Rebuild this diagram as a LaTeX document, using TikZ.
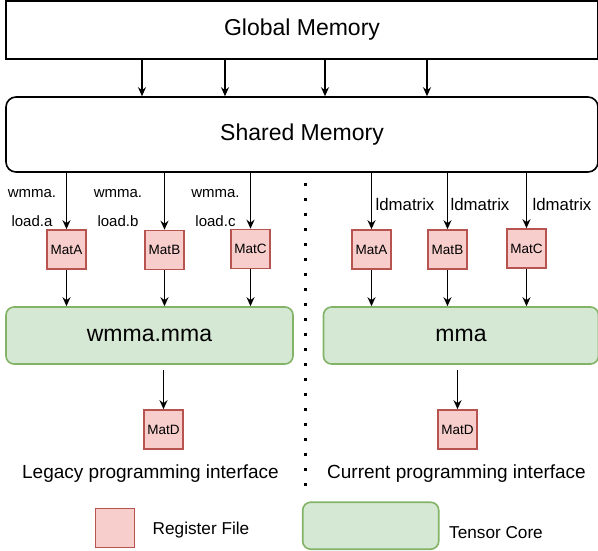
\documentclass[tikz,border=0pt]{standalone}
\usepackage{fontspec}
\setmainfont{Liberation Sans}
\usetikzlibrary{arrows.meta,
                positioning
            }

\tikzset{
    membox/.style={draw, line width=1.6pt, inner sep=0pt, font=\fontsize{23}{26}\selectfont},
    regfile/.style={draw=regline, fill=regfill, line width=1.6pt, minimum width=39pt, minimum height=39pt, inner sep=0pt, font=\fontsize{13.5}{15}\selectfont},
    tcore/.style={draw=tcline, fill=tcfill, line width=1.6pt, rounded corners=8pt, minimum height=57pt, inner sep=0pt, font=\fontsize{23}{26}\selectfont},
    flow/.style={-{Stealth[length=9pt,width=8pt]}, line width=1.6pt},
    lbl/.style={inner sep=0pt, align=center}
}
\definecolor{regfill}{HTML}{F8CECC}
\definecolor{regline}{HTML}{B85450}
\definecolor{tcfill}{HTML}{D5E8D4}
\definecolor{tcline}{HTML}{82B366}

\begin{document}
\begin{tikzpicture}[x=1pt, y=-1pt]
            \useasboundingbox (0,0) rectangle (598,550);
            % memories
            \node[membox, minimum width=592pt, minimum height=58pt] (gmem) at (302, 30) {Global Memory};
            \node[membox, rounded corners=10pt, minimum width=592pt, minimum height=75pt] (smem) at (302, 134.5) {Shared Memory};
            \foreach \x in {142, 225, 325, 427}
                \draw[flow] (\x, 0 |- gmem.south) -- (\x, 0 |- smem.north);

            % legacy side
            \node[regfile] (lmatA) at (66.5, 249.5) {MatA};
            \node[regfile] (lmatB) at (164.5, 250) {MatB};
            \node[regfile] (lmatC) at (250.5, 249) {MatC};
            \node[tcore, minimum width=287pt] (wmma) at (149.5, 335.5) {wmma.mma};
            \node[regfile] (lmatD) at (163.5, 429.5) {MatD};

            % current side
            \node[regfile] (rmatA) at (371.5, 249.5) {MatA};
            \node[regfile] (rmatB) at (447.5, 249.5) {MatB};
            \node[regfile] (rmatC) at (526.5, 248.5) {MatC};
            \node[tcore, minimum width=275pt] (mma) at (461, 335.5) {mma};
            \node[regfile] (rmatD) at (457.5, 429.5) {MatD};

            \foreach \m in {lmatA, lmatB, lmatC, rmatA, rmatB, rmatC}
                \draw[flow] (smem.south -| \m.north) -- (\m.north);
            \foreach \m in {lmatA, lmatB, lmatC}
                \draw[flow] (\m.south) -- (wmma.north -| \m.south);
            \foreach \m in {rmatA, rmatB, rmatC}
                \draw[flow] (\m.south) -- (mma.north -| \m.south);
            \draw[flow, shorten <=5pt] (wmma.south -| lmatD.north) -- (lmatD.north);
            \draw[flow, shorten <=5pt] (mma.south -| rmatD.north) -- (rmatD.north);

            % load labels
            \node[lbl, font=\fontsize{15}{29}\selectfont] (ldA) at (32, 208) {wmma.\\load.a};
            \node[lbl, font=\fontsize{15}{29}\selectfont] (ldB) at (118, 208) {wmma.\\load.b};
            \node[lbl, font=\fontsize{15}{29}\selectfont] (ldC) at (215.5, 208) {wmma.\\load.c};
            \node[lbl, font=\fontsize{16.8}{19}\selectfont] (lmA) at (405, 204) {ldmatrix};
            \node[lbl, font=\fontsize{16.8}{19}\selectfont] (lmB) at (480, 204) {ldmatrix};
            \node[lbl, font=\fontsize{16.8}{19}\selectfont] (lmC) at (562, 204) {ldmatrix};

            % divider
            \coordinate (divtop) at (305.7, 183);
            \coordinate (divbot) at (305.7, 490);
            \draw[line width=3pt, dash pattern=on 3pt off 12pt] (divtop) -- (divbot);

            \node[lbl, font=\fontsize{19}{22}\selectfont] (legacy) at (150.5, 474) {Legacy programming interface};
            \node[lbl, font=\fontsize{19}{22}\selectfont] (current) at (456.5, 474) {Current programming interface};

            % legend
            \node[regfile] (keyreg) at (114.8, 527.8) {};
            \node[lbl, font=\fontsize{17.2}{20}\selectfont] (keyregtxt) at (201, 530) {Register File};
            \node[tcore, minimum width=136pt, minimum height=47pt] (keytc) at (370.7, 525.7) {};
            \node[lbl, font=\fontsize{17.2}{20}\selectfont] (keytctxt) at (496, 532.7) {Tensor Core};
        \end{tikzpicture}
\end{document}
